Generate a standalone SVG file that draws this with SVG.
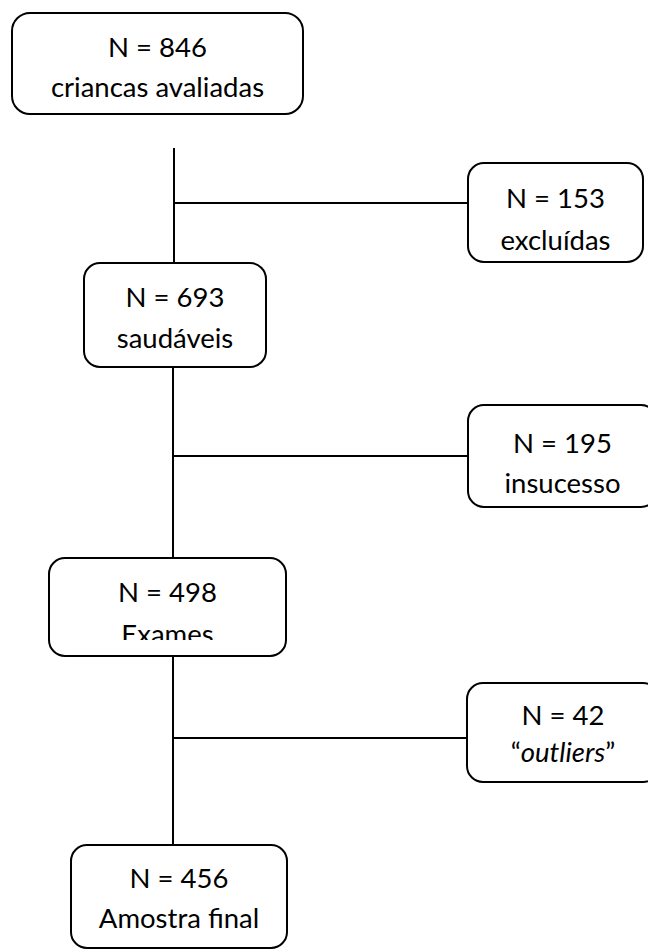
<svg xmlns="http://www.w3.org/2000/svg" width="648" height="951" viewBox="0 0 648 951">
<style>
.box{fill:#fff;stroke:#000;stroke-width:2}
.ln{stroke:#000;stroke-width:2;fill:none}
text{font-family:Lato,"Open Sans","Liberation Sans",sans-serif;font-size:27.5px;fill:#000;text-anchor:middle}
</style>
<defs>
<clipPath id="clipEx"><rect x="0" y="0" width="648" height="640"/></clipPath>
</defs>
<rect width="648" height="951" fill="#fff"/>
<g id="connectors">
<line class="ln" x1="174" y1="148" x2="174" y2="263"/>
<line class="ln" x1="174" y1="203" x2="468" y2="203"/>
<line class="ln" x1="173" y1="368" x2="173" y2="558"/>
<line class="ln" x1="173" y1="456" x2="468" y2="456"/>
<line class="ln" x1="173" y1="656" x2="173" y2="845"/>
<line class="ln" x1="173" y1="738" x2="467" y2="738"/>
</g>
<g id="n846">
<rect class="box" x="12" y="13" width="291" height="101" rx="18"/>
<text x="157.5" y="57">N = 846</text>
<text x="157.5" y="97">criancas avaliadas</text>
</g>
<g id="n153">
<rect class="box" x="468" y="163" width="175" height="99" rx="16"/>
<text x="555.5" y="208">N = 153</text>
<text x="555.5" y="250">excluídas</text>
</g>
<g id="n693">
<rect class="box" x="84" y="263" width="182" height="104" rx="16"/>
<text x="175" y="307">N = 693</text>
<text x="175" y="348">saudáveis</text>
</g>
<g id="n195">
<rect class="box" x="468" y="405" width="189" height="102" rx="16"/>
<text x="562.5" y="453">N = 195</text>
<text x="562.5" y="493">insucesso</text>
</g>
<g id="n498">
<rect class="box" x="49" y="558" width="237" height="98" rx="16"/>
<text x="167.5" y="602">N = 498</text>
<text x="167.5" y="644" clip-path="url(#clipEx)">Exames</text>
</g>
<g id="n42">
<rect class="box" x="467" y="683" width="192" height="99" rx="16"/>
<text x="563" y="725">N = 42</text>
<text x="563" y="762">“<tspan font-style="italic">outliers</tspan>”</text>
</g>
<g id="n456">
<rect class="box" x="71" y="845" width="216" height="103" rx="16"/>
<text x="179" y="888">N = 456</text>
<text x="179" y="928">Amostra final</text>
</g>
</svg>
